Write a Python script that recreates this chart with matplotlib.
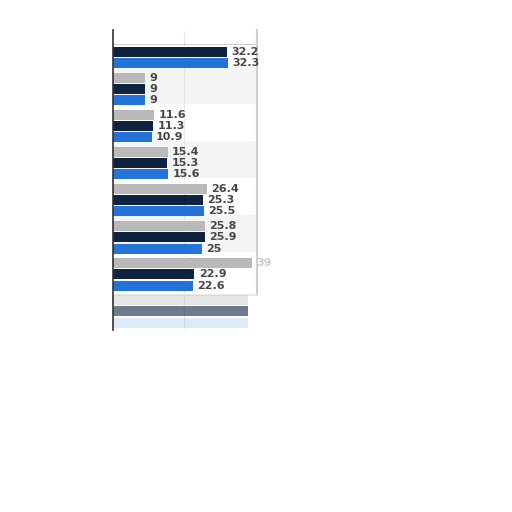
import matplotlib
matplotlib.use("Agg")
import matplotlib.pyplot as plt
import numpy as np

# values per group (top to bottom); last group is blurred / cut off in the source
gray_vals = [np.nan, 9, 11.6, 15.4, 26.4, 25.8, 39, 38]
dark_vals = [32.2, 9, 11.3, 15.3, 25.3, 25.9, 22.9, 38]
blue_vals = [32.3, 9, 10.9, 15.6, 25.5, 25, 22.6, 38]
show_labels = [True, True, True, True, True, True, True, False]

GRAY = "#b9b9b9"
NAVY = "#0f2340"
BLUE = "#2473d8"

fig = plt.figure(figsize=(5.12, 5.12), dpi=100)
ax = fig.add_axes([113 / 512, (512 - 330) / 512, 144 / 512, 300 / 512])

n = len(dark_vals)
y = np.arange(n)
h = 0.27
off = 0.30

# alternating row bands
for i in range(n - 1):
    if i % 2 == 1:
        ax.axhspan(i - 0.5 - 0.1, i + 0.5 - 0.1, color="#f4f4f4", zorder=0, lw=0)

ax.axvline(20, color="#d8d8d8", lw=0.8, ls=(0, (1, 1)), zorder=0.5)

for i in range(n):
    faded = not show_labels[i]
    if not np.isnan(gray_vals[i]):
        ax.barh(y[i] - off, gray_vals[i], height=h, color=GRAY,
                alpha=0.35 if faded else 1.0, zorder=2)
    ax.barh(y[i], dark_vals[i], height=h, color=NAVY,
            alpha=0.6 if faded else 1.0, zorder=2)
    ax.barh(y[i] + off, blue_vals[i], height=h, color=BLUE,
            alpha=0.15 if faded else 1.0, zorder=2)
    if faded:
        continue
    for val, yy in [(gray_vals[i], y[i] - off), (dark_vals[i], y[i]), (blue_vals[i], y[i] + off)]:
        if np.isnan(val):
            continue
        txt = "{:g}".format(val)
        color = "#474747"
        alpha = 1.0
        if val > 36:
            color = "#999999"
            alpha = 0.5
        ax.text(val + 1.2, yy, txt, va="center", ha="left", fontsize=8,
                fontweight="bold", color=color, alpha=alpha, zorder=3, clip_on=False)

# top border and right frame edge
ax.plot([0, 40.5], [-0.22, -0.22], color="#d0d0d0", lw=0.8, zorder=1)
ax.plot([40.5, 40.5], [-0.6, 6.55], color="#cfcfcf", lw=1.5, zorder=1, clip_on=False)
ax.plot([0, 40.5], [6.55, 6.55], color="#e6e6e6", lw=1.2, zorder=1)

ax.set_xlim(0, 40.5)
ax.set_ylim(7.5, -0.6)
ax.set_xticks([])
ax.set_yticks([])
for side in ["top", "right", "bottom"]:
    ax.spines[side].set_visible(False)
ax.spines["left"].set_color("#333333")
ax.spines["left"].set_linewidth(1.2)
ax.patch.set_alpha(0)

fig.savefig("out.png", dpi=100)
